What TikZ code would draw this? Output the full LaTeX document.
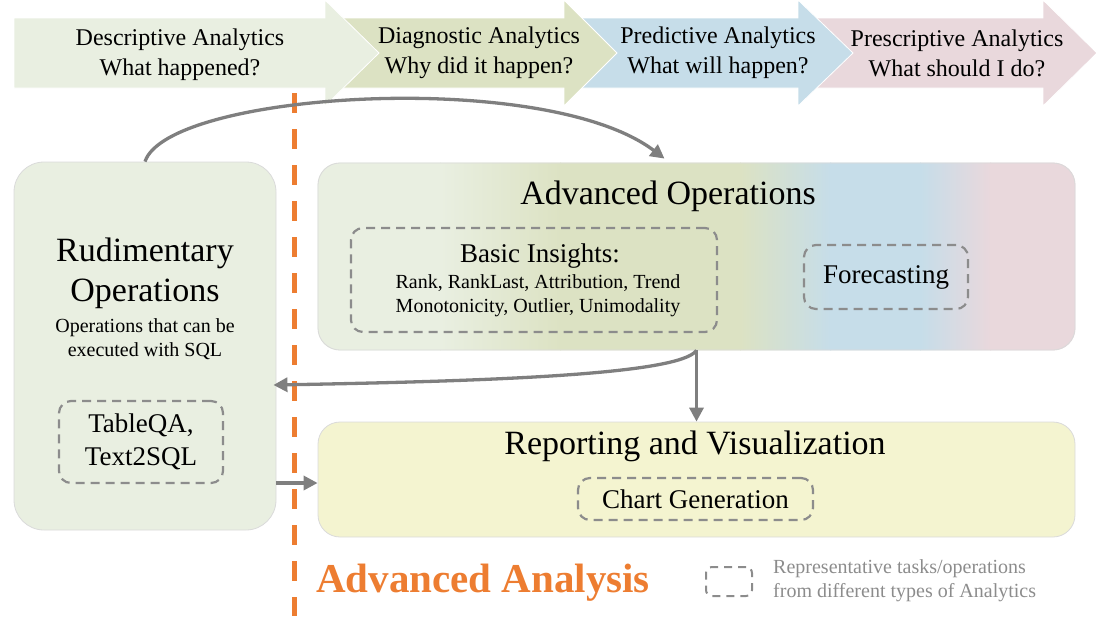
\documentclass[tikz,border=0pt]{standalone}
\usepackage{fontspec}
\setmainfont{Liberation Serif}
\usetikzlibrary{arrows.meta,calc,backgrounds}
\definecolor{cDesc}{HTML}{E9EFE1}
\definecolor{cDiag}{HTML}{DCE2C3}
\definecolor{cPred}{HTML}{C6DDE9}
\definecolor{cPres}{HTML}{E9D8DC}
\definecolor{cRep}{HTML}{F4F4D0}
\definecolor{cArrow}{HTML}{7F7F7F}
\definecolor{cDash}{HTML}{8C8C8C}
\definecolor{cOrange}{HTML}{ED7D31}
\definecolor{cEdge}{HTML}{DADADA}
\tikzset{
  bigarrow/.style={draw=white, line width=0.8pt, line join=miter},
  arrtext/.style={align=center, inner sep=0pt, font=\fontsize{24}{30}\selectfont},
  bigbox/.style={rectangle, rounded corners=22pt, draw=cEdge, line width=0.8pt, inner sep=0pt},
  titletext/.style={align=center, inner sep=0pt, font=\fontsize{34}{40}\selectfont},
  smalltext/.style={align=center, inner sep=0pt, font=\fontsize{20}{24}\selectfont},
  dashbox/.style={rectangle, rounded corners=12pt, draw=cDash, line width=2.2pt, dash pattern=on 9pt off 6pt, inner sep=0pt, align=center, font=\fontsize{27}{33}\selectfont},
  conn/.style={draw=cArrow, line width=3.3pt, -{Triangle[length=14pt,width=14pt]}},
}
\begin{document}
\begin{tikzpicture}[x=1pt,y=-1pt]
\useasboundingbox (0,0) rectangle (1099,616);
% top process arrows (drawn right to left so heads overlap)
\fill[cPres,bigarrow] (798,18) -- (1043,18) -- (1043,0) -- (1097,53) -- (1043,106) -- (1043,88) -- (798,88) -- cycle;
\fill[cPred,bigarrow] (564,18) -- (798,18) -- (798,0) -- (853,53) -- (798,106) -- (798,88) -- (564,88) -- cycle;
\fill[cDiag,bigarrow] (325,18) -- (564,18) -- (564,0) -- (617,53) -- (564,106) -- (564,88) -- (325,88) -- cycle;
\fill[cDesc,bigarrow] (14,18) -- (325,18) -- (325,0) -- (379,53) -- (325,106) -- (325,88) -- (14,88) -- cycle;
\node[arrtext] (t1) at (180,55) {Descriptive Analytics\\What happened?};
\node[arrtext] (t2) at (479,53) {Diagnostic Analytics\\Why did it happen?};
\node[arrtext] (t3) at (718,53) {Predictive Analytics\\What will happen?};
\node[arrtext] (t4) at (957,53) {Prescriptive Analytics\\What should I do?};

% rudimentary operations
\node[bigbox, rounded corners=30pt, fill=cDesc, minimum width=262pt, minimum height=368pt] (rud) at (145,346) {};
\node[titletext] (rudt) at (145,273) {Rudimentary\\Operations};
\node[smalltext] (ruds) at (145,339) {Operations that can be\\executed with SQL};
\node[dashbox, minimum width=164pt, minimum height=82pt] (tqa) at (141,442) {TableQA,\\Text2SQL};

% advanced operations
\node[bigbox, minimum width=757pt, minimum height=187pt] (adv) at (696.5,256.5) {};
\begin{scope}[on background layer]
  \clip[rounded corners=22pt] (adv.south west) rectangle (adv.north east);
  \fill[cDesc] (300,150) rectangle (441,360);
  \shade[left color=cDesc, right color=cDiag] (440,150) rectangle (561,360);
  \fill[cDiag] (560,150) rectangle (741,360);
  \shade[left color=cDiag, right color=cPred] (740,150) rectangle (831,360);
  \fill[cPred] (830,150) rectangle (921,360);
  \shade[left color=cPred, right color=cPres] (920,150) rectangle (991,360);
  \fill[cPres] (990,150) rectangle (1090,360);
\end{scope}
\node[titletext] (advt) at (668,196) {Advanced Operations};
\node[dashbox, minimum width=366pt, minimum height=104pt] (bi) at (534,280) {};
\node[inner sep=0pt, font=\fontsize{27}{33}\selectfont] (bit) at (540,256) {Basic Insights:};
\node[smalltext] (bil) at (538,296) {Rank, RankLast, Attribution, Trend\\Monotonicity, Outlier, Unimodality};
\node[dashbox, minimum width=164pt, minimum height=64pt] (fc) at (886,277) {Forecasting};

% reporting and visualization
\node[bigbox, fill=cRep, minimum width=757pt, minimum height=115pt] (rep) at (696.5,479.5) {};
\node[titletext] (rept) at (695,446) {Reporting and Visualization};
\node[dashbox, minimum width=235pt, minimum height=42pt] (cg) at (695.5,499) {Chart Generation};

% orange divider
\coordinate (vtop) at (294,93);
\coordinate (vbot) at (294,616);
\draw[cOrange, line width=5pt, dash pattern=on 20pt off 16pt] (vtop) -- (vbot);
\node[inner sep=0pt, text=cOrange, font=\fontsize{41}{48}\selectfont\bfseries] (aa) at (483,583) {Advanced Analysis};

% legend
\node[dashbox, rounded corners=6pt, line width=2pt, dash pattern=on 8pt off 6pt, minimum width=46pt, minimum height=29pt] (lg) at (729,581.5) {};
\node[smalltext, align=left, anchor=west, text=cDash] (lt) at (773,581) {Representative tasks/operations\\from different types of Analytics};

% connectors
\draw[conn] (rud.north) .. controls (168,92) and (545,68) .. ($(adv.north)+(-32,-4)$);
\draw[conn] (adv.south) .. controls (680,374) and (500,381) .. ($(rud.east)+(-3,39)$);
\draw[conn] (adv.south) -- (rep.north);
\draw[conn] ($(rud.east)+(0,137)$) -- ($(rep.west)+(0,3.5)$);
\end{tikzpicture}
\end{document}
